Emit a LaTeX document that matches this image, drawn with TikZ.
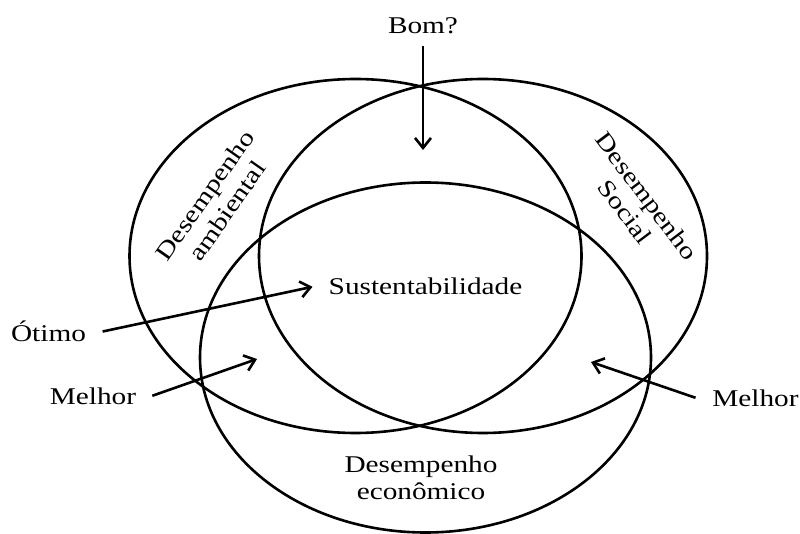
\documentclass[tikz,border=0pt]{standalone}
\usepackage{fontspec}
\setmainfont{Liberation Serif}[FakeStretch=1.22]
\usetikzlibrary{arrows.meta}
\begin{document}
\begin{tikzpicture}[x=1pt,y=-1pt,
  ring/.style={draw=black, line width=2.6pt},
  lbl/.style={font=\fontsize{24}{27}\selectfont, inner sep=3pt, align=center},
  arr/.style={line width=2.6pt, -{Straight Barb[length=10pt,width=16pt]}}]
\useasboundingbox (0,0) rectangle (800,534);
% three performance ellipses
\draw[ring] (355.5,256) ellipse [x radius=226pt, y radius=177pt];
\draw[ring] (483,256) ellipse [x radius=224pt, y radius=177pt];
\draw[ring] (425.5,357.5) ellipse [x radius=225.5pt, y radius=175pt];
% labels
\node[lbl, anchor=base] (bom) at (423,33.3) {Bom?};
\node[lbl, anchor=base] (sust) at (425.5,295) {Sustentabilidade};
\node[lbl, anchor=base] (otimo) at (48.5,341.7) {Ótimo};
\node[lbl, anchor=base] (ml) at (93,404) {Melhor};
\node[lbl, anchor=base] (mr) at (755.5,406) {Melhor};
\node[lbl] (econ) at (421,478) {Desempenho\\econômico};
\node[lbl, rotate=55] (amb) at (216,203) {Desempenho\\ambiental};
\node[lbl, rotate=-53] (soc) at (636,204) {Desempenho\\Social};
% arrow ends
\coordinate (bomtip) at (423,150);
\coordinate (mltip) at (257,359);
\coordinate (mrtip) at (591,362);
% arrows
\draw[arr] ([yshift=-8.7pt]bom.south) -- (bomtip);
\draw[arr] ([xshift=13.5pt]otimo.east) -- ([xshift=-13pt]sust.west);
\draw[arr] ([xshift=13pt]ml.east) -- (mltip);
\draw[arr] ([xshift=-13.7pt]mr.west) -- (mrtip);
\end{tikzpicture}
\end{document}
